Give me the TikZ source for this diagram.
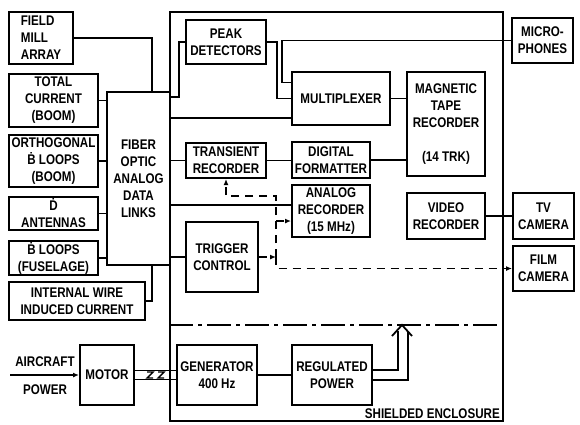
\documentclass[tikz,border=0pt]{standalone}
\usepackage{fontspec}
\setmainfont{Liberation Sans}[FakeStretch=0.83]
\usetikzlibrary{arrows.meta}

\tikzset{
  blk/.style={draw, line width=2pt, align=center, inner sep=1pt},
  wire/.style={line width=1.8pt},
  trg/.style={line width=1.6pt, dash pattern=on 8pt off 6pt},
  tip/.style={-{Latex[length=6pt,width=5pt]}},
}

\begin{document}
\begin{tikzpicture}[x=1pt, y=-1pt, every node/.style={font=\bfseries\fontsize{14}{17}\selectfont}]
    \useasboundingbox (0,0) rectangle (580,424);
    % Enclosure
    \node[draw, line width=2pt, minimum width=333pt, minimum height=409pt] (encl) at (336.5,216.5) {};
    \node[anchor=south east, inner sep=1pt] (enclab) at ([shift={(-3pt,2pt)}]encl.south east) {SHIELDED ENCLOSURE};
    % Sensors
    \node[blk, align=left, minimum width=64pt, minimum height=52pt] (mill) at (41,38) {FIELD\\MILL\\ARRAY};
    \node[blk, minimum width=89pt, minimum height=53pt] (total) at (53.5,100.5) {TOTAL\\CURRENT\\(BOOM)};
    \node[blk, minimum width=89pt, minimum height=52pt] (ortho) at (53.5,161) {ORTHOGONAL\\\.{B} LOOPS\\(BOOM)};
    \node[blk, minimum width=89pt, minimum height=33pt] (dant) at (53.5,213.5) {\.{D}\\ANTENNAS};
    \node[blk, minimum width=89pt, minimum height=34pt] (fuse) at (53.5,258) {\.{B} LOOPS\\(FUSELAGE)};
    \node[blk, minimum width=136pt, minimum height=38pt] (wire) at (77,301) {INTERNAL WIRE\\INDUCED CURRENT};
    \node[blk, minimum width=63pt, minimum height=173pt] (fiber) at (138.5,178.5) {FIBER\\OPTIC\\ANALOG\\DATA\\LINKS};
    % Inside the enclosure
    \node[blk, minimum width=80pt, minimum height=44pt] (peak) at (226,42) {PEAK\\DETECTORS};
    \node[blk, minimum width=98pt, minimum height=53pt] (mux) at (341,98.5) {MULTIPLEXER};
    \node[blk, minimum width=78pt, minimum height=104pt] (tape) at (446,124) {MAGNETIC\\TAPE\\RECORDER\\[17pt](14 TRK)};
    \node[blk, minimum width=80pt, minimum height=35pt] (trans) at (226,160.5) {TRANSIENT\\RECORDER};
    \node[blk, minimum width=78pt, minimum height=36pt] (digf) at (331,160) {DIGITAL\\FORMATTER};
    \node[blk, minimum width=78pt, minimum height=52pt] (analog) at (331,211) {ANALOG\\RECORDER\\(15 MHz)};
    \node[blk, minimum width=72pt, minimum height=70pt] (trig) at (222,257) {TRIGGER\\CONTROL};
    \node[blk, minimum width=78pt, minimum height=46pt] (video) at (446,216) {VIDEO\\RECORDER};
    \node[blk, minimum width=80pt, minimum height=60pt] (gen) at (217,375) {GENERATOR\\400 Hz};
    \node[blk, minimum width=80pt, minimum height=60pt] (reg) at (332,375) {REGULATED\\POWER};
    % Outside, right
    \node[blk, minimum width=61pt, minimum height=45pt] (mic) at (542.5,40.5) {MICRO-\\PHONES};
    \node[blk, minimum width=61pt, minimum height=46pt] (tv) at (543.5,216) {TV\\CAMERA};
    \node[blk, minimum width=61pt, minimum height=45pt] (film) at (543.5,268.5) {FILM\\CAMERA};
    % Outside, bottom left
    \node[blk, minimum width=54pt, minimum height=60pt] (motor) at (107,375) {MOTOR};
    \node (acl) at (45,362) {AIRCRAFT};
    \node (pwl) at (45,390) {POWER};

    % Sensor links
    \draw[wire] (mill.east) -| ([xshift=13.5pt]fiber.north);
    \draw[wire] (total.east) -- (total.east -| fiber.west);
    \draw[wire] (ortho.east) -- (ortho.east -| fiber.west);
    \draw[wire] (dant.east) -- (dant.east -| fiber.west);
    \draw[wire] (fuse.east) -- (fuse.east -| fiber.west);
    \draw[wire] (wire.east) -| ([xshift=13.5pt]fiber.south);
    % Fiber outputs
    \draw[wire] ([yshift=-6pt]fiber.north east) -- ++(8,0) |- (peak.west);
    \coordinate (muxin) at ([yshift=8pt]mux.south west);
    \draw[wire] (muxin -| fiber.east) -- (muxin);
    \draw[wire] (fiber.east |- trans.west) -- (trans.west);
    \coordinate (anin) at ([yshift=6pt]analog.west);
    \draw[wire] (fiber.east |- anin) -- (anin);
    \draw[wire] (fiber.east |- trig.west) -- (trig.west);
    % Recording
    \coordinate (mxb) at ([yshift=16pt]mux.west);
    \draw[wire] (peak.east) -- ++(10,0) |- (mux.west);
    \draw[wire] (mic.west) -- ++(-229,0) |- (mxb);
    \draw[wire] (mux.east) -- (mux.east -| tape.west);
    \draw[wire] (trans.east) -- (trans.east -| digf.west);
    \draw[wire] (digf.east) -- (digf.east -| tape.west);
    \draw[wire] (video.east) -- (tv.west);
    % Trigger lines
    \coordinate (tj) at (276,257);
    \coordinate (antr) at ([yshift=-10pt]analog.west);
    \draw[trg, tip] (trig.east) -- (tj);
    \draw[trg, tip] (tj) -- ++(0,-61) -| (trans.south);
    \draw[trg, tip] (tj |- antr) -- (antr);
    \draw[trg, tip] (tj) |- (film.west);
    % Power
    \coordinate (acin) at (10,375);
    \draw[wire, tip] (acin) -- (motor.west);
    \draw[wire] ([yshift=4.5pt]motor.east) -- ([yshift=4.5pt]gen.west);
    \draw[wire] ([yshift=-4.5pt]motor.east) -- ([yshift=-4.5pt]gen.west);
    \foreach \zx in {150,161} {
        \draw[line width=1.4pt] (\zx-3,372) -- (\zx+3,372) -- (\zx-3,378) -- (\zx+3,378);
    }
    \draw[wire] (gen.east) -- (reg.west);
    \draw[wire] ([yshift=5pt]reg.east) -- ++(25,0) -- ++(0,-39.5);
    \draw[wire] ([yshift=-5pt]reg.east) -- ++(35,0) -- ++(0,-49.5);
    \draw[wire] (392,336) -- (402,325) -- (412,336);
    % Compartment wall
    \draw[wire, dash pattern=on 24pt off 5pt on 4pt off 5pt] (encl.west |- 0,325) -- (encl.east |- 0,325);
\end{tikzpicture}
\end{document}
